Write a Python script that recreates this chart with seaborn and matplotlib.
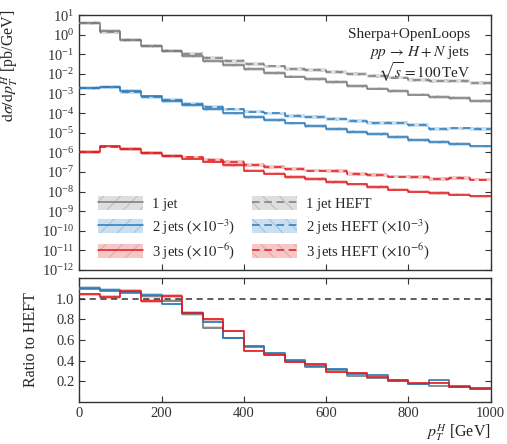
import numpy as np
import pandas as pd
import matplotlib
matplotlib.use("Agg")
import matplotlib.pyplot as plt
from matplotlib.patches import Patch
from matplotlib.lines import Line2D
from matplotlib.ticker import LogLocator, NullLocator, FixedLocator, FormatStrFormatter
import seaborn as sns

# -----------------------------
# DATA
# -----------------------------
pt_edges = np.arange(0, 1050, 50)  # GeV, 20 bins

# d sigma / d pT^H  [pb/GeV]
jet1 = [4.1, 1.5, 0.56, 0.27, 0.15, 0.085, 0.046, 0.028, 0.017, 0.011,
        0.0073, 0.0054, 0.0039, 0.0024, 0.0018, 0.0013, 0.00089, 0.00068, 0.0006, 0.00043]
jet1_heft = [3.74, 1.39, 0.53, 0.263, 0.153, 0.10, 0.064, 0.045, 0.032, 0.024,
             0.0185, 0.016, 0.0126, 0.0095, 0.0079, 0.0065, 0.0051, 0.0044, 0.0043, 0.0034]

# 2 jets (x 1e-3)
jet2 = [2.0e-3, 2.2e-3, 1.3e-3, 7.1e-4, 4.3e-4, 2.6e-4, 1.6e-4, 9.6e-5, 6.5e-5, 4.6e-5,
        2.96e-5, 2.3e-5, 1.55e-5, 1.12e-5, 8.3e-6, 6.3e-6, 4.3e-6, 3.3e-6, 2.6e-6, 2.0e-6]
jet2_heft = [1.81e-3, 2.03e-3, 1.23e-3, 6.86e-4, 4.54e-4, 3.0e-4, 2.06e-4, 1.54e-4, 1.2e-4, 9.6e-5,
             7.3e-5, 6.5e-5, 4.8e-5, 4.1e-5, 3.2e-5, 3.06e-5, 2.5e-5, 1.57e-5, 1.65e-5, 1.55e-5]

# 3 jets (x 1e-6)
jet3 = [1.08e-6, 2.0e-6, 1.54e-6, 9.3e-7, 6.8e-7, 4.8e-7, 3.4e-7, 2.2e-7, 1.17e-7, 8.3e-8,
        5.4e-8, 4.3e-8, 3.1e-8, 2.3e-8, 1.74e-8, 1.26e-8, 1.0e-8, 8.5e-9, 7.0e-9, 5.6e-9]
jet3_heft = [1.04e-6, 1.97e-6, 1.43e-6, 9.5e-7, 6.6e-7, 5.5e-7, 4.25e-7, 3.2e-7, 2.35e-7, 1.82e-7,
             1.4e-7, 1.17e-7, 1.08e-7, 8.1e-8, 7.3e-8, 5.8e-8, 5.5e-8, 4.5e-8, 4.8e-8, 4.1e-8]

# ratio to HEFT
ratio1 = [1.097, 1.077, 1.058, 1.026, 0.98, 0.848, 0.72, 0.62, 0.53, 0.462,
          0.395, 0.335, 0.31, 0.252, 0.229, 0.2, 0.175, 0.155, 0.145, 0.126]
ratio2 = [1.106, 1.084, 1.06, 1.035, 0.948, 0.865, 0.777, 0.623, 0.542, 0.477,
          0.403, 0.352, 0.323, 0.271, 0.258, 0.206, 0.174, 0.21, 0.158, 0.129]
ratio3 = [1.04, 1.016, 1.077, 0.977, 1.026, 0.865, 0.80, 0.69, 0.497, 0.455,
          0.387, 0.368, 0.287, 0.284, 0.239, 0.216, 0.181, 0.187, 0.145, 0.135]

labels = ["1 jet", r"2 jets ($\times10^{-3}$)", r"3 jets ($\times10^{-6}$)"]
labels_heft = ["1 jet HEFT", r"2 jets HEFT ($\times10^{-3}$)", r"3 jets HEFT ($\times10^{-6}$)"]

# styling
line_cols = ["#7a7a7a", "#2a7ab8", "#e31a1c"]
band_cols = ["#d4d4d4", "#b9d5ec", "#f3b5b5"]
hatch_cols = ["#a8a8a8", "#86afd3", "#e38d8d"]
band_up, band_dn = 1.25, 0.8
dash = (0, (5, 3))

# -----------------------------
# FIGURE
# -----------------------------
sns.set_style("ticks")
plt.rcParams['font.family'] = ['Liberation Serif', 'DejaVu Serif']
plt.rcParams['mathtext.fontset'] = 'stix'
plt.rcParams['hatch.linewidth'] = 0.6
plt.rcParams['axes.edgecolor'] = '#333333'
plt.rcParams['xtick.color'] = '#333333'
plt.rcParams['ytick.color'] = '#333333'

fig = plt.figure(figsize=(5.07, 4.44), dpi=100)
ax = fig.add_axes([0.1565, 0.392, 0.8110, 0.574])
rax = fig.add_axes([0.1565, 0.0946, 0.8110, 0.2794])


def step(a, vals, color, ls="-", lw=1.1, zorder=3):
    df = pd.DataFrame({"x": pt_edges, "y": np.append(vals, vals[-1])})
    sns.lineplot(data=df, x="x", y="y", ax=a, estimator=None, color=color,
                 drawstyle="steps-post", linestyle=ls, linewidth=lw, zorder=zorder)


def band(a, lo, hi, fc, hc, hatch):
    a.fill_between(pt_edges, np.append(lo, lo[-1]), np.append(hi, hi[-1]), step="post",
                   facecolor=fc, edgecolor=hc, hatch=hatch, linewidth=0, alpha=0.75, zorder=2)


ax.set_yscale("log")
mains = [(jet1, jet1_heft), (jet2, jet2_heft), (jet3, jet3_heft)]
for i, (full, heft) in enumerate(mains):
    full = np.array(full)
    heft = np.array(heft)
    band(ax, heft * band_dn, heft * band_up, band_cols[i], hatch_cols[i], "\\\\")
    band(ax, full * band_dn, full * band_up, band_cols[i], hatch_cols[i], "//")
    step(ax, heft, line_cols[i], ls=dash)
    step(ax, full, line_cols[i])

ax.set_xlim(0, 1000)
ax.set_ylim(1e-12, 10)
ax.yaxis.set_major_locator(LogLocator(base=10, numticks=20))
ax.yaxis.set_minor_locator(NullLocator())
ax.xaxis.set_major_locator(FixedLocator([0, 200, 400, 600, 800, 1000]))
ax.set_xlabel("")
ax.set_ylabel(r"$\mathrm{d}\sigma/\mathrm{d}p_T^H$ [pb/GeV]", fontsize=11.5)
ax.yaxis.set_label_coords(-0.144, 1.02)
ax.yaxis.label.set_horizontalalignment("right")
ax.tick_params(axis="both", which="both", direction="in", top=True, right=True,
               labelbottom=False, labelsize=10.5, length=4)

ax.text(0.95, 0.925, "Sherpa+OpenLoops", transform=ax.transAxes, ha="right", va="center", fontsize=11)
ax.text(0.95, 0.852, r"$pp\,\rightarrow\,H+N$ jets", transform=ax.transAxes, ha="right", va="center", fontsize=11)
ax.text(0.95, 0.775, r"$\sqrt{s}=100\,$TeV", transform=ax.transAxes, ha="right", va="center", fontsize=11)

# legends
h_full = [(Patch(facecolor=band_cols[i], edgecolor=hatch_cols[i], hatch="//", linewidth=0, alpha=0.75),
           Line2D([], [], color=line_cols[i], lw=1.1)) for i in range(3)]
h_heft = [(Patch(facecolor=band_cols[i], edgecolor=hatch_cols[i], hatch="\\\\", linewidth=0, alpha=0.75),
           Line2D([], [], color=line_cols[i], lw=1.1, ls=dash)) for i in range(3)]
leg_kw = dict(loc="upper left", frameon=False, fontsize=10.5, handlelength=3.1, handleheight=1.1,
              handletextpad=0.6, labelspacing=0.4, borderpad=0, borderaxespad=0)
leg1 = ax.legend(h_full, labels, bbox_to_anchor=(0.045, 0.29), **leg_kw)
ax.add_artist(leg1)
ax.legend(h_heft, labels_heft, bbox_to_anchor=(0.419, 0.29), **leg_kw)

# ratio panel
ratios = [ratio1, ratio2, ratio3]
for i, r in enumerate(ratios):
    r = np.array(r)
    rax.fill_between(pt_edges, np.append(r * 0.985, r[-1] * 0.985), np.append(r * 1.015, r[-1] * 1.015),
                     step="post", facecolor=band_cols[i], linewidth=0, alpha=0.9, zorder=2)
    step(rax, r, line_cols[i], lw=1.2)
rax.axhline(1.0, color="#333333", ls=(0, (4, 3)), lw=1.1, zorder=4)

rax.set_xlim(0, 1000)
rax.set_ylim(0, 1.2)
rax.xaxis.set_major_locator(FixedLocator([0, 200, 400, 600, 800, 1000]))
rax.yaxis.set_major_locator(FixedLocator([0.2, 0.4, 0.6, 0.8, 1.0]))
rax.yaxis.set_major_formatter(FormatStrFormatter("%.1f"))
rax.tick_params(axis="both", which="both", direction="in", top=True, right=True,
                labelsize=10.5, length=4)
rax.set_ylabel("Ratio to HEFT", fontsize=11.5)
rax.yaxis.set_label_coords(-0.098, 0.5)
rax.set_xlabel(r"$p_T^H$ [GeV]", fontsize=11.5)
rax.xaxis.set_label_coords(1.0, -0.16)
rax.xaxis.label.set_horizontalalignment("right")

for a in (ax, rax):
    for s in a.spines.values():
        s.set_linewidth(1.0)

fig.savefig("out.png", dpi=100)
